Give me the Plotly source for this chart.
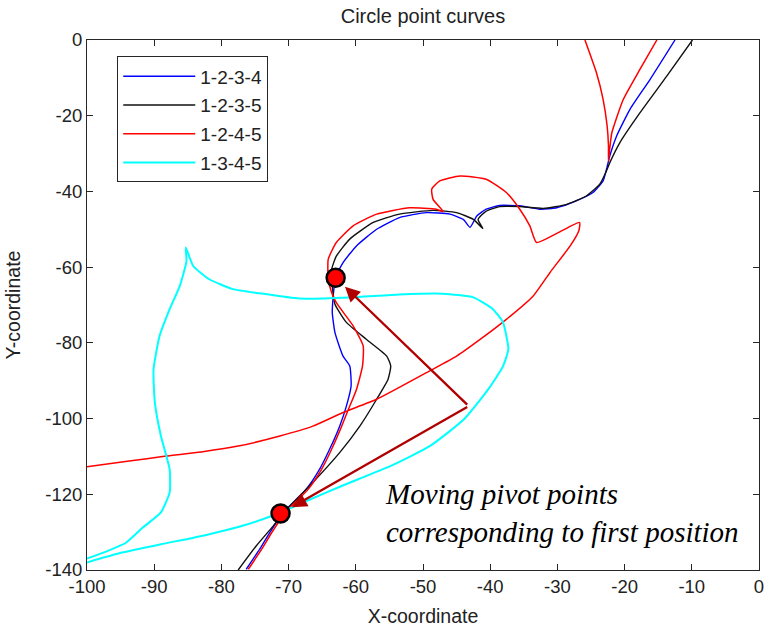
import plotly.graph_objects as go

# ---- data ----
blue_x = [-76.3, -74.3, -72.8, -70.8, -67.4, -65.4, -63.9, -62.4, -61.4, -60.7, -60.9, -61.9, -63.1, -63.5, -63.4,
          -63.2, -62.8, -61.9, -59.9, -56.9, -53.5, -49.5, -46.0, -44.0, -43.0, -42.0, -40.6, -38.6, -35.6, -32.6,
          -30.1, -27.2, -24.7, -23.2, -22.7, -22.2, -21.2, -19.2, -16.2, -12.5]
blue_y = [-139.8, -134.5, -130.1, -124.8, -118.7, -113.4, -108.1, -102.0, -96.7, -91.4, -86.1, -83.5, -77.3, -72.0,
          -68.5, -65.0, -62.0, -58.8, -54.4, -50.0, -46.9, -45.6, -46.0, -47.4, -49.5, -46.5, -44.7, -43.7, -43.8,
          -44.7, -44.3, -42.5, -40.3, -37.2, -34.2, -30.6, -25.4, -18.3, -10.4, 0.0]

black_x = [-77.5, -74.8, -72.3, -69.8, -66.4, -62.4, -59.4, -56.9, -55.2, -54.8, -55.4, -58.4, -61.4, -63.1, -63.4,
           -63.6, -63.6, -62.9, -60.9, -57.4, -53.5, -48.5, -45.0, -42.5, -41.1, -41.8, -40.6, -38.6, -35.6, -32.1,
           -28.6, -25.7, -23.7, -22.8, -22.2, -20.7, -17.7, -13.7, -9.9]
black_y = [-140.0, -133.6, -128.4, -123.1, -116.9, -109.0, -102.0, -94.9, -89.6, -86.1, -83.5, -79.1, -74.6, -69.8,
           -66.7, -63.0, -60.6, -57.1, -52.6, -48.2, -46.0, -45.0, -45.6, -47.4, -49.8, -47.4, -45.2, -44.0, -44.0,
           -44.5, -43.4, -41.2, -38.1, -35.0, -32.4, -27.1, -19.2, -9.5, 0.0]

red_x = [-76.0, -74.0, -72.5, -70.5, -67.1, -65.1, -63.6, -62.1, -61.2, -59.9, -59.0, -58.9, -60.4, -62.9, -63.6,
         -64.1, -64.1, -62.9, -60.4, -56.9, -52.0, -48.0, -47.0, -48.5, -48.7, -47.5, -44.5, -40.6, -37.6, -35.6,
         -34.1, -33.1, -30.0, -26.7, -26.8, -28.1, -31.1, -33.6, -37.6, -41.5, -45.0, -49.0, -56.9, -61.9, -66.4,
         -71.3, -77.3, -83.0, -88.2, -94.0, -100.0]
red_y = [-139.8, -134.5, -130.1, -124.8, -118.7, -113.4, -108.1, -102.0, -98.0, -92.3, -86.1, -80.8, -75.5, -69.4,
         -66.7, -63.2, -57.9, -53.5, -49.1, -46.0, -44.3, -44.7, -45.3, -42.1, -39.4, -37.2, -35.9, -36.8, -40.3,
         -44.7, -49.1, -53.5, -51.0, -48.2, -50.3, -54.4, -61.4, -67.6, -73.8, -79.1, -83.5, -87.4, -94.9, -98.4,
         -102.0, -104.6, -107.2, -108.8, -109.9, -111.3, -112.7]
red_top_x = [-25.9, -24.2, -23.2, -22.6, -22.4, -22.4, -22.2, -21.9, -20.2, -17.7, -15.2]
red_top_y = [0.0, -8.6, -15.7, -22.7, -28.0, -32.0, -28.5, -24.5, -15.7, -7.7, 0.0]

cyan_x = [-100.0, -97.0, -94.2, -91.7, -89.0, -87.7, -87.7, -89.0, -89.9, -90.1, -89.2, -87.7, -86.2, -85.2, -85.3,
          -84.2, -81.8, -78.3, -74.3, -68.4, -60.9, -53.5, -47.0, -42.5, -39.6, -38.1, -37.3, -38.1, -40.3, -43.9,
          -49.0, -54.8, -62.1, -67.0, -71.2, -76.6, -82.4, -89.0, -94.8, -100.0]
cyan_y = [-137.0, -135.0, -132.8, -128.8, -124.8, -119.5, -113.4, -104.6, -95.8, -87.0, -78.2, -71.1, -65.0, -58.4,
          -54.8, -59.7, -63.2, -65.8, -66.9, -68.3, -68.0, -67.2, -67.0, -68.0, -71.1, -74.6, -81.7, -86.2, -92.3,
          -100.2, -107.3, -112.5, -117.8, -121.5, -124.8, -128.2, -130.8, -133.2, -135.4, -138.0]

series_names = ["1-2-3-4", "1-2-3-5", "1-2-4-5", "1-3-4-5"]

pivot_x = [-63.0, -71.2]
pivot_y = [-62.8, -125.1]
arrow_tail_x = -43.2
arrow_tail_y = -96.7

x_ticks = [-100, -90, -80, -70, -60, -50, -40, -30, -20, -10, 0]
y_ticks = [-140, -120, -100, -80, -60, -40, -20, 0]

# ---- figure ----
SANS = "Liberation Sans, Arial, sans-serif"
TXT = "#222222"
fig = go.Figure()

line_shape = dict(shape="spline", smoothing=0.5)
fig.add_trace(go.Scatter(x=blue_x, y=blue_y, mode="lines", name=series_names[0], legendgroup="a",
                         line=dict(color="#0000FF", width=1.4, **line_shape)))
fig.add_trace(go.Scatter(x=black_x, y=black_y, mode="lines", name=series_names[1], legendgroup="b",
                         line=dict(color="#111111", width=1.4, **line_shape)))
fig.add_trace(go.Scatter(x=red_x + [None] + red_top_x, y=red_y + [None] + red_top_y, mode="lines",
                         name=series_names[2], legendgroup="c", connectgaps=False,
                         line=dict(color="#FF0000", width=1.5, **line_shape)))
fig.add_trace(go.Scatter(x=cyan_x, y=cyan_y, mode="lines", name=series_names[3], legendgroup="d",
                         line=dict(color="#00FFFF", width=2, **line_shape)))

fig.add_trace(go.Scatter(x=pivot_x, y=pivot_y, mode="markers", showlegend=False,
                         marker=dict(size=18, color="#FF0000", line=dict(color="black", width=2.5))))

for px, py in zip(pivot_x, pivot_y):
    fig.add_annotation(x=px, y=py, ax=arrow_tail_x, ay=arrow_tail_y, xref="x", yref="y",
                       axref="x", ayref="y", text="", showarrow=True, arrowhead=2, arrowsize=1.3,
                       arrowwidth=2.3, arrowcolor="#B00000", standoff=13)

fig.add_annotation(x=-56.0, y=-125.0, xref="x", yref="y", xanchor="left", yanchor="middle", align="left",
                   showarrow=False, text="Moving pivot points<br>corresponding to first position",
                   font=dict(family="Liberation Serif, Times New Roman, serif", size=29, color="black",
                             style="italic"))

axis_common = dict(showline=True, linecolor="#262626", linewidth=1, mirror="allticks", ticks="inside",
                   ticklen=6, tickcolor="#262626", showgrid=False, zeroline=False, automargin=False,
                   tickfont=dict(family=SANS, size=18.5, color=TXT))

fig.update_xaxes(range=[-100, 0], tickvals=x_ticks, ticktext=[str(v) for v in x_ticks],
                 title=dict(text="X-coordinate", font=dict(family=SANS, size=19.5, color=TXT), standoff=13),
                 **axis_common)
fig.update_yaxes(range=[-140, 0], tickvals=y_ticks, ticktext=[str(v) for v in y_ticks],
                 title=dict(text="Y-coordinate", font=dict(family=SANS, size=19.5, color=TXT), standoff=19),
                 **axis_common)

fig.update_layout(
    width=767, height=627,
    margin=dict(l=87, r=8, t=40, b=57),
    paper_bgcolor="white", plot_bgcolor="white",
    title=dict(text="Circle point curves", x=0.5, xref="paper", y=0.9745, yanchor="middle",
               font=dict(family=SANS, size=20, color=TXT)),
    legend=dict(x=0.045, y=0.969, xanchor="left", yanchor="top", bgcolor="white",
                bordercolor="#262626", borderwidth=1, font=dict(family=SANS, size=19, color=TXT),
                tracegroupgap=1, itemwidth=72),
    showlegend=True,
)

fig.write_html("out.html")
